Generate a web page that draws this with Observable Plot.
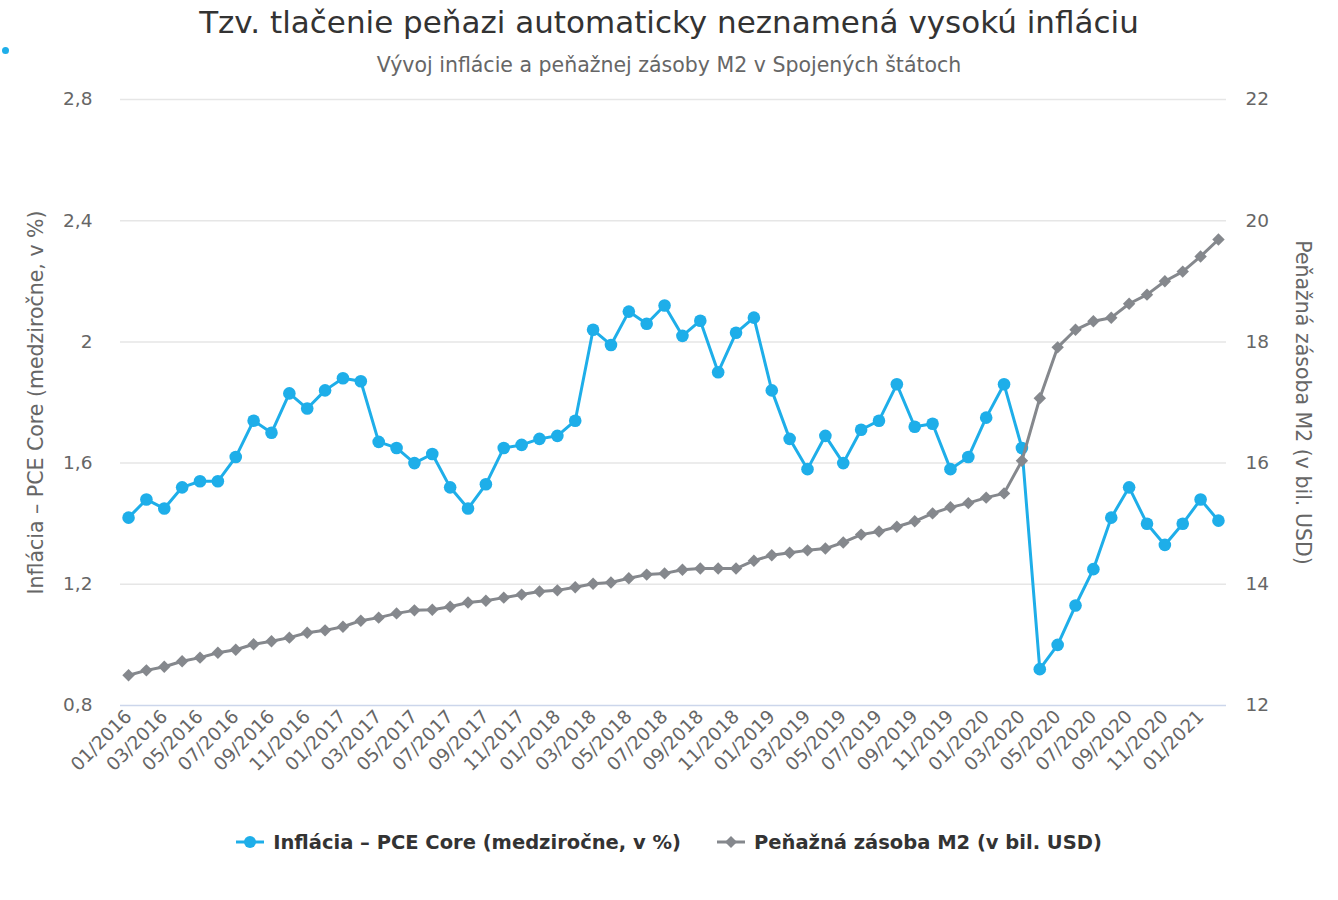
<!DOCTYPE html>
<html><head><meta charset="utf-8">
<script src="https://cdn.jsdelivr.net/npm/d3@7"></script>
<script src="https://cdn.jsdelivr.net/npm/@observablehq/plot@0.6"></script>
<style>
body{margin:0;background:#fff;font-family:"DejaVu Sans",sans-serif;}
#wrap{position:relative;width:1338px;height:900px;}
#head{height:80px;position:relative;}
#title{position:absolute;left:0;width:1338px;top:4px;text-align:center;font-size:31px;color:#333;white-space:nowrap;}
#sub{position:absolute;left:0;width:1338px;top:53px;text-align:center;font-size:20.5px;color:#666;white-space:nowrap;}
#dot{position:absolute;left:2px;top:47px;width:7px;height:7px;border-radius:50%;background:#1eaee9;}
#legend{display:flex;justify-content:center;align-items:center;gap:36px;height:44px;margin-top:20px;font-weight:bold;font-size:19.5px;color:#333;}
#legend .it{display:flex;align-items:center;gap:9px;white-space:nowrap;}
</style></head>
<body>
<div id="wrap">
  <div id="head">
    <div id="title">Tzv. tlačenie peňazi automaticky neznamená vysokú infláciu</div>
    <div id="sub">Vývoj inflácie a peňažnej zásoby M2 v Spojených štátoch</div>
    <div id="dot"></div>
  </div>
  <div id="chart"></div>
  <div id="legend"></div>
</div>
<script>
const months = ["01/2016","02/2016","03/2016","04/2016","05/2016","06/2016","07/2016","08/2016","09/2016","10/2016","11/2016","12/2016",
"01/2017","02/2017","03/2017","04/2017","05/2017","06/2017","07/2017","08/2017","09/2017","10/2017","11/2017","12/2017",
"01/2018","02/2018","03/2018","04/2018","05/2018","06/2018","07/2018","08/2018","09/2018","10/2018","11/2018","12/2018",
"01/2019","02/2019","03/2019","04/2019","05/2019","06/2019","07/2019","08/2019","09/2019","10/2019","11/2019","12/2019",
"01/2020","02/2020","03/2020","04/2020","05/2020","06/2020","07/2020","08/2020","09/2020","10/2020","11/2020","12/2020",
"01/2021","02/2021"];
const pceCore = [1.42,1.48,1.45,1.52,1.54,1.54,1.62,1.74,1.70,1.83,1.78,1.84,
1.88,1.87,1.67,1.65,1.60,1.63,1.52,1.45,1.53,1.65,1.66,1.68,
1.69,1.74,2.04,1.99,2.10,2.06,2.12,2.02,2.07,1.90,2.03,2.08,
1.84,1.68,1.58,1.69,1.60,1.71,1.74,1.86,1.72,1.73,1.58,1.62,
1.75,1.86,1.65,0.92,1.00,1.13,1.25,1.42,1.52,1.40,1.33,1.40,
1.48,1.41];
const m2Supply = [12.50,12.58,12.64,12.73,12.79,12.87,12.92,13.01,13.06,13.12,13.20,13.24,
13.30,13.40,13.45,13.52,13.57,13.58,13.63,13.70,13.73,13.78,13.83,13.88,
13.90,13.95,14.01,14.03,14.10,14.16,14.18,14.24,14.26,14.26,14.26,14.39,
14.48,14.52,14.56,14.59,14.69,14.82,14.87,14.95,15.04,15.17,15.27,15.34,
15.43,15.50,16.04,17.07,17.91,18.20,18.34,18.40,18.63,18.78,19.00,19.16,
19.41,19.69];
const leftTicks = [0.8,1.2,1.6,2,2.4,2.8];
const rightTicks = [12,14,16,18,20,22];
const seriesNames = ["Inflácia – PCE Core (medziročne, v %)","Peňažná zásoba M2 (v bil. USD)"];
const leftTitle = "Inflácia – PCE Core (medziročne, v %)";
const rightTitle = "Peňažná zásoba M2 (v bil. USD)";

const BLUE = "#1eaee9", GRAY = "#85888d";
// map right-axis (M2) domain [12,22] onto left-axis domain [0.8,2.8]
const toLeft = m => 0.8 + (m - 12) * (2.0 / 10);

const data = months.map((m, i) => ({month: m, pce: pceCore[i], m2: toLeft(m2Supply[i])}));
const xTicks = months.filter((d, i) => i % 2 === 0);
const fmt = d => String(d).replace(".", ",");

const chart = Plot.plot({
  width: 1338,
  height: 720,
  marginTop: 19,
  marginBottom: 95,
  marginLeft: 120,
  marginRight: 112,
  style: {fontFamily: "DejaVu Sans, sans-serif", fontSize: "18px", color: "#666", background: "transparent"},
  x: {type: "point", domain: months, padding: 0.45},
  y: {domain: [0.8, 2.8]},
  marks: [
    Plot.ruleY(leftTicks.slice(1), {stroke: "#e6e6e6", strokeWidth: 1.5}),
    Plot.ruleY([0.8], {stroke: "#ccd6eb", strokeWidth: 1.5}),
    Plot.axisX({ticks: xTicks, tickRotate: -45, tickSize: 0, tickPadding: 8, label: null, fill: "#666", fontSize: 18.5}),
    Plot.axisY({anchor: "left", ticks: leftTicks, tickFormat: fmt, tickSize: 0, tickPadding: 28, label: null, fill: "#666", fontSize: 18.5}),
    Plot.axisY({anchor: "right", ticks: rightTicks.map(toLeft), tickFormat: (d, i) => String(rightTicks[i]), tickSize: 0, tickPadding: 19, label: null, fill: "#666", fontSize: 18.5}),
    Plot.text([leftTitle], {frameAnchor: "left", dx: -84, rotate: -90, textAnchor: "middle", fill: "#666", fontSize: 20.5}),
    Plot.text([rightTitle], {frameAnchor: "right", dx: 76, rotate: 90, textAnchor: "middle", fill: "#666", fontSize: 20.5}),
    Plot.line(data, {x: "month", y: "pce", stroke: BLUE, strokeWidth: 3, strokeLinejoin: "round", strokeLinecap: "round"}),
    Plot.dot(data, {x: "month", y: "pce", fill: BLUE, r: 6.3, stroke: null}),
    Plot.line(data, {x: "month", y: "m2", stroke: GRAY, strokeWidth: 3, strokeLinejoin: "round", strokeLinecap: "round"}),
    Plot.dot(data, {x: "month", y: "m2", fill: GRAY, r: 5.6, symbol: "diamond2", stroke: null})
  ]
});
document.getElementById("chart").appendChild(chart);

const legend = document.getElementById("legend");
const sym = [
  `<svg width="28" height="14"><line x1="0" y1="7" x2="28" y2="7" stroke="${BLUE}" stroke-width="3"/><circle cx="14" cy="7" r="6" fill="${BLUE}"/></svg>`,
  `<svg width="28" height="14"><line x1="0" y1="7" x2="28" y2="7" stroke="${GRAY}" stroke-width="3"/><path d="M14 1 L20 7 L14 13 L8 7 Z" fill="${GRAY}"/></svg>`
];
seriesNames.forEach((n, i) => {
  const it = document.createElement("div");
  it.className = "it";
  it.innerHTML = sym[i];
  const s = document.createElement("span");
  s.textContent = n;
  it.appendChild(s);
  legend.appendChild(it);
});
</script>
</body></html>
